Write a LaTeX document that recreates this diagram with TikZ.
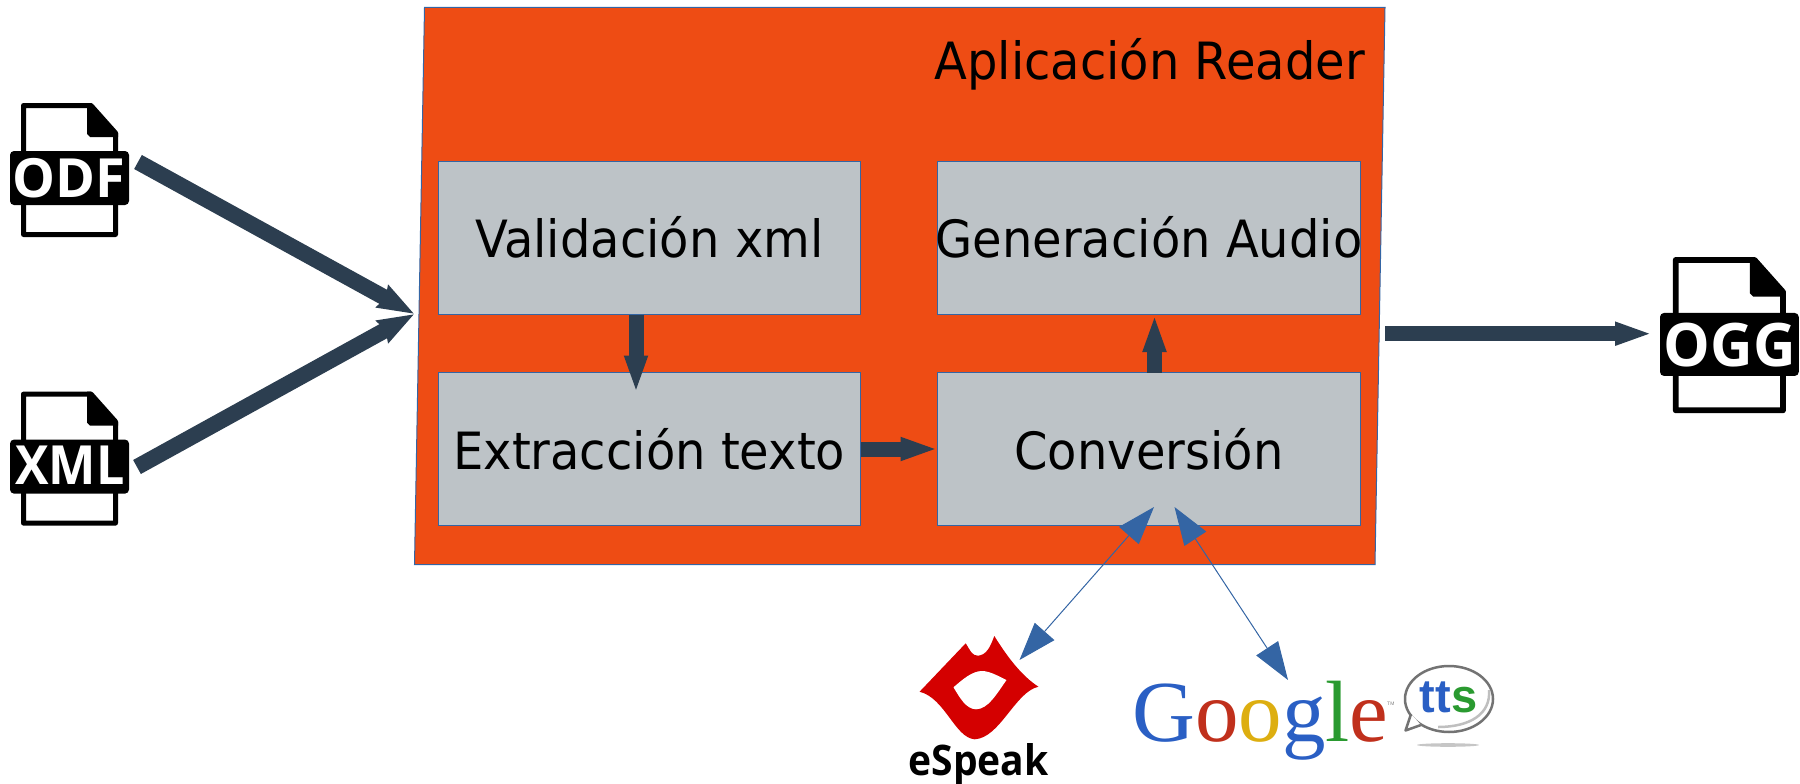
\documentclass[tikz,border=0pt]{standalone}
\usepackage{fontspec}
\usepackage{graphicx}
\setmainfont{DejaVu Sans}
\newfontfamily\iconfont{Open Sans}
\newfontfamily\gfont{Liberation Serif}
\newfontfamily\tfont{Liberation Sans}
\usetikzlibrary{arrows.meta}
\definecolor{apporange}{HTML}{EE4C14}
\definecolor{boxgray}{HTML}{BDC3C7}
\definecolor{darkarrow}{HTML}{2C3E50}
\definecolor{linkblue}{HTML}{3465A4}
\definecolor{gblue}{HTML}{2A5FC4}
\definecolor{gred}{HTML}{C0301C}
\definecolor{gyellow}{HTML}{DDAE10}
\definecolor{ggreen}{HTML}{2A9A30}
\definecolor{lipred}{HTML}{D40000}
\newcommand{\fs}[1]{\fontsize{#1}{#1}\selectfont}
\newcommand{\tall}[1]{\makebox[0pt][c]{\scalebox{1}[1.07]{#1}}}
\newcommand{\fileicon}[4]{% shift/scale options, line width, node name, label
  \begin{scope}[#1]
    \draw[line width=#2, line join=round, fill=white] (91,105.5)--(115.5,133)--(115.5,234.5)--(23.5,234.5)--(23.5,105.5)--cycle;
    \fill[black] (91,103)--(118,133)--(118,137)--(90,137)--(87,134)--(87,103)--cycle;
    \fill[black, rounded corners=4pt] (10,151) rectangle (129,205);
    #4
  \end{scope}}
\tikzset{
  x=1pt, y=-1pt,
  procbox/.style={draw=linkblue, line width=1pt, fill=boxgray, minimum width=422.5pt, minimum height=153pt, inner sep=0pt, font=\fs{48}},
  bigarrow/.style={draw=darkarrow, line width=15pt, -{Triangle[length=38pt,width=21pt]}},
  notcharrow/.style={draw=darkarrow, line width=16pt, -{Stealth[length=36pt,width=24pt,inset=3pt]}},
  linkarrow/.style={draw=linkblue, line width=1pt, {Triangle[length=38pt,width=26pt]}-{Triangle[length=38pt,width=26pt]}},
  icontext/.style={text=white, inner sep=0pt, anchor=base},
}
\begin{document}
\begin{tikzpicture}
\useasboundingbox (0,0) rectangle (1800,784);
% application panel
\draw[draw=linkblue, line width=1pt, fill=apporange] (424.5,7.5)--(1385,7.5)--(1375,564.5)--(414.5,564.5)--cycle;
\node[anchor=base east, inner sep=0pt, font=\fs{48}] (title) at (1365,80) {\scalebox{1}[1.07]{Aplicación Reader}};
% process boxes
\node[procbox] (val) at (649.25,237.75) {\tall{Validación xml}};
\node[procbox] (gen) at (1149,237.75) {\tall{Generación Audio}};
\node[procbox] (ext) at (649.25,449) {\tall{Extracción texto}};
\node[procbox] (conv) at (1149,449) {\tall{Conversión}};
% file icons
\fileicon{}{5pt}{odf}{\node[icontext, font=\iconfont\bfseries\fs{54}] (odf) at (69,197) {ODF};}
\fileicon{shift={(0,288.6)}}{5pt}{xml}{\node[icontext, font=\iconfont\bfseries\fs{54}] (xml) at (70,195.4) {\scalebox{0.93}[1]{XML}};}
\fileicon{shift={(1660,257)},scale=1.166,shift={(-10,-103)}}{5.8pt}{ogg}{\node[icontext, font=\iconfont\bfseries\fs{60}] (ogg) at (70,197) {\scalebox{0.98}[1]{OGG}};}
% connector end points
\coordinate (odfout) at (138,162);
\coordinate (xmlout) at (137,467);
\coordinate (appin) at (414.5,314);
\coordinate (appout) at (1385,333.7);
\coordinate (oggin) at (1653,333.7);
\coordinate (valout) at (636,314.5);
\coordinate (extin) at (636,393.5);
\coordinate (convout) at (1154.5,372.5);
\coordinate (genin) at (1154.5,314);
\coordinate (convl) at (1154,507);
\coordinate (convr) at (1174.5,507);
\coordinate (espk) at (1019.5,660);
\coordinate (gtts) at (1288,680);
\coordinate (convin) at (938.5,449);
% dark arrows
\draw[notcharrow] (odfout)--(appin);
\draw[notcharrow] (xmlout)--(appin);
\draw[bigarrow] (appout)--(oggin);
\draw[bigarrow] (valout)--(extin);
\draw[bigarrow] (convout)--(genin);
\draw[bigarrow] (ext.east)--(convin);
% eSpeak logo
\fill[lipred] (919.6,691.7)--(965.7,643.3) .. controls (970,650) and (972,656) .. (978,655.7) .. controls (986,655) and (990,648) .. (994.3,636)
  .. controls (1008,658) and (1022,676) .. (1038.4,686.7) .. controls (1015,692) and (1000,738) .. (974.7,739.3)
  .. controls (955,738) and (945,698) .. (919.6,691.7)--cycle;
\fill[white] (953.5,687.3) .. controls (962,680) and (972,671) .. (982,671) .. controls (990,671) and (1000,677) .. (1006.5,680)
  .. controls (996,695) and (988,709) .. (976,709.3) .. controls (966,709) and (960,698) .. (953.5,687.3)--cycle;
\node[anchor=base, inner sep=0pt, font=\iconfont\bfseries\fs{39}] (espeak) at (978.5,775) {\scalebox{1}[1.08]{eSpeak}};
% Google tts logo
\node[anchor=base west, inner sep=0pt, font=\gfont\fs{87}] (google) at (1132,741.7) {\textcolor{gblue}{G}\textcolor{gred}{o}\textcolor{gyellow}{o}\textcolor{gblue}{g}\textcolor{ggreen}{l}\textcolor{gred}{e}};
\node[anchor=base west, inner sep=0pt, text=gray, font=\tfont\fs{5}] (tm) at (1387,705) {TM};
\fill[gray!45] (1448,745) ellipse [x radius=31, y radius=1.8];
\draw[gray!90!black, line width=2.5pt, fill=white] (1449,699) ellipse [x radius=44, y radius=33];
\draw[lightgray, line width=2.5pt] (1489,690) .. controls (1491,714) and (1470,727) .. (1438,727);
\draw[gray!90!black, line width=2.5pt, fill=white, line join=round] (1411,714)--(1405.5,730.5)--(1421,725);
\node[anchor=base, inner sep=0pt, font=\tfont\bfseries\fs{47}] (tts) at (1448.5,712) {\textcolor{gblue}{tt}\textcolor{ggreen}{s}};
% blue links
\draw[linkarrow] (convl)--(espk);
\draw[linkarrow] (convr)--(gtts);
\end{tikzpicture}
\end{document}
